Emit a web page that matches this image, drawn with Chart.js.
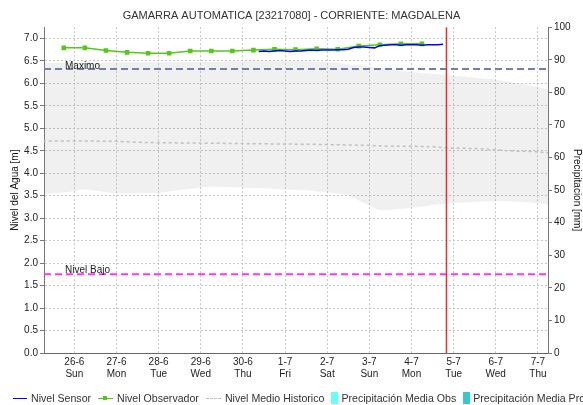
<!DOCTYPE html>
<html>
<head>
<meta charset="utf-8">
<script src="https://cdn.jsdelivr.net/npm/chart.js@4"></script>
<style>
  body { margin: 0; background: #fff; }
  #wrap { position: relative; width: 583px; height: 405px; overflow: hidden; }
  #legend { position: absolute; left: 13px; top: 391px; height: 14px; display: flex; align-items: center;
            white-space: nowrap; font: 10.6px "Liberation Sans", Arial, sans-serif; color: #333; }
  .item { display: flex; align-items: center; margin-right: 7px; flex: none; }
  .sym { display: block; position: relative; margin-right: 4px; flex: none; }
</style>
</head>
<body>
<div id="wrap">
  <canvas id="myChart" width="583" height="405"></canvas>
  <div id="legend"></div>
</div>
<script>
// days counted from 26-6 (tick 0) to 7-7 (tick 11)
const dayLabels = ['26-6', '27-6', '28-6', '29-6', '30-6', '1-7', '2-7', '3-7', '4-7', '5-7', '6-7', '7-7'];
const weekDays = ['Sun', 'Mon', 'Tue', 'Wed', 'Thu', 'Fri', 'Sat', 'Sun', 'Mon', 'Tue', 'Wed', 'Thu'];

const sensorTimes = [4.375, 4.5, 4.625, 4.75, 4.875, 5.0, 5.125, 5.25, 5.375, 5.5, 5.625, 5.75,
  5.875, 6.0, 6.125, 6.25, 6.375, 6.5, 6.625, 6.75, 6.875, 7.0, 7.125, 7.25,
  7.375, 7.5, 7.625, 7.75, 7.875, 8.0, 8.125, 8.25, 8.375, 8.5, 8.625, 8.75];
const sensorLevel = [6.71, 6.72, 6.71, 6.72, 6.73, 6.72, 6.71, 6.72, 6.72, 6.73, 6.74, 6.73,
  6.74, 6.74, 6.74, 6.75, 6.75, 6.76, 6.80, 6.81, 6.81, 6.80, 6.79, 6.84,
  6.85, 6.86, 6.86, 6.85, 6.86, 6.86, 6.86, 6.85, 6.86, 6.86, 6.86, 6.87];

const obsTimes = [-0.25, 0.25, 0.75, 1.25, 1.75, 2.25, 2.75, 3.25, 3.75,
  4.25, 4.75, 5.25, 5.75, 6.25, 6.75, 7.25, 7.75, 8.25];
const obsLevel = [6.79, 6.79, 6.73, 6.69, 6.67, 6.67, 6.72, 6.72, 6.72,
  6.74, 6.76, 6.75, 6.77, 6.76, 6.83, 6.86, 6.88, 6.88];

const histTimes = [-0.75, 0, 1, 1.5, 2, 3, 4, 5, 6, 7, 7.5, 8, 8.5, 8.9, 9.5, 10, 10.5, 11, 11.25];
const histMean = [4.72, 4.72, 4.71, 4.69, 4.68, 4.67, 4.66, 4.65, 4.64, 4.62, 4.60, 4.60, 4.59, 4.56, 4.55, 4.52, 4.49, 4.48, 4.45];

const bandTimes = [-0.75, 0, 0.25, 1, 2, 3.25, 4.2, 4.75, 5.4, 5.9, 6.3, 6.5, 7, 7.25, 7.9, 8.9, 10.1, 11, 11.25];
const bandHigh = [6.45, 6.46, 6.46, 6.47, 6.47, 6.48, 6.50, 6.50, 6.50, 6.48, 6.45, 6.42, 6.37, 6.34, 6.26, 6.18, 6.07, 5.92, 5.87];
const bandLow = [3.53, 3.60, 3.64, 3.55, 3.57, 3.70, 3.67, 3.65, 3.62, 3.58, 3.54, 3.50, 3.28, 3.18, 3.22, 3.33, 3.38, 3.33, 3.30];

const levelMax = 6.32;
const levelLow = 1.75;
const nowDay = 8.83;
const xMin = -0.72, xMax = 11.24;

const pts = (xs, ys) => xs.map((x, i) => ({ x: x, y: ys[i] }));
const flat = (v) => [{ x: xMin, y: v }, { x: xMax, y: v }];
const FONT = '"Liberation Sans", Arial, sans-serif';

// red "now" line plus the text on the reference levels
const extras = {
  id: 'extras',
  afterDatasetsDraw(chart) {
    const { ctx, chartArea, scales } = chart;
    const x = scales.x.getPixelForValue(nowDay);
    ctx.save();
    ctx.strokeStyle = '#e83030';
    ctx.lineWidth = 1.5;
    ctx.beginPath();
    ctx.moveTo(x, chartArea.top);
    ctx.lineTo(x, chartArea.bottom);
    ctx.stroke();
    ctx.fillStyle = '#222';
    ctx.font = '10px ' + FONT;
    ctx.textBaseline = 'alphabetic';
    ctx.fillText('Maximo', chartArea.left + 21, scales.y.getPixelForValue(levelMax));
    ctx.fillText('Nivel Bajo', chartArea.left + 21, scales.y.getPixelForValue(levelLow) - 1);
    ctx.restore();
  }
};

const mychart = document.getElementById('myChart');
const chart = new Chart(mychart, {
  type: 'line',
  data: {
    datasets: [
      { label: 'Nivel Sensor', data: pts(sensorTimes, sensorLevel), borderColor: '#0000ff',
        borderWidth: 1.5, pointRadius: 0, legend: 'line' },
      { label: 'Nivel Observador', data: pts(obsTimes, obsLevel), borderColor: '#55c818',
        backgroundColor: '#55c818', borderWidth: 1.5, pointRadius: 2.2, pointStyle: 'rect', legend: 'marker' },
      { label: 'Nivel Medio Historico', data: pts(histTimes, histMean), borderColor: '#c0c0c0',
        borderWidth: 1.5, borderDash: [3, 3], pointRadius: 0, legend: 'dash' },
      { type: 'bar', label: 'Precipitación Media Obs', data: [], yAxisID: 'y2',
        backgroundColor: '#66ffff', legend: 'box' },
      { type: 'bar', label: 'Precipitación Media Pro', data: [], yAxisID: 'y2',
        backgroundColor: '#33cccc', legend: 'box' },
      { label: 'Maximo', data: flat(levelMax), borderColor: '#7480ac', borderWidth: 2,
        borderDash: [7, 4], pointRadius: 0 },
      { label: 'Nivel Bajo', data: flat(levelLow), borderColor: '#ff33ff', borderWidth: 2,
        borderDash: [7, 4], pointRadius: 0 },
      { label: 'max', data: pts(bandTimes, bandHigh), borderWidth: 0, pointRadius: 0,
        fill: '+1', backgroundColor: 'rgba(128,128,128,0.12)', tension: 0.2 },
      { label: 'min', data: pts(bandTimes, bandLow), borderWidth: 0, pointRadius: 0,
        fill: false, tension: 0.2 },
    ],
  },
  options: {
    responsive: false,
    animation: false,
    devicePixelRatio: 1,
    layout: { padding: 0 },
    plugins: {
      legend: { display: false },
      tooltip: { enabled: false },
      title: {
        display: true,
        text: 'GAMARRA AUTOMATICA [23217080] - CORRIENTE: MAGDALENA',
        color: '#333',
        font: { family: FONT, size: 11, weight: 'normal' },
        padding: { top: 9, bottom: 5 },
      },
    },
    scales: {
      x: {
        type: 'linear',
        min: xMin,
        max: xMax,
        offset: false,
        ticks: {
          stepSize: 1,
          includeBounds: false,
          padding: 3,
          color: '#222',
          maxRotation: 0,
          autoSkip: false,
          font: { family: FONT, size: 10 },
          callback: (v) => [dayLabels[v], weekDays[v]],
        },
        afterBuildTicks: (s) => { s.ticks = s.ticks.filter(t => Number.isInteger(t.value) && t.value >= 0); },
        afterFit: (s) => { s.height = 52; },
        grid: { color: '#c8c8c8', drawTicks: false, offset: false },
        border: { color: '#666', dash: [2, 2] },
      },
      y: {
        position: 'left',
        min: 0,
        max: 7.25,
        ticks: {
          stepSize: 0.5,
          includeBounds: false,
          padding: 2,
          color: '#222',
          font: { family: FONT, size: 10 },
          callback: (v) => v.toFixed(1),
        },
        afterBuildTicks: (s) => { s.ticks = s.ticks.filter(t => t.value <= 7.0001); },
        afterFit: (s) => { s.width = 44; },
        grid: { color: '#c8c8c8', tickLength: 4, tickColor: '#777', tickBorderDash: [] },
        border: { color: '#777', dash: [2, 2] },
        title: {
          display: true,
          text: 'Nivel del Agua [m]',
          color: '#111',
          font: { family: FONT, size: 10 },
          padding: { top: 9, bottom: 0 },
        },
      },
      y2: {
        position: 'right',
        min: 0,
        max: 100,
        ticks: {
          stepSize: 10,
          padding: 2,
          color: '#222',
          font: { family: FONT, size: 10 },
        },
        afterFit: (s) => { s.width = 35; },
        grid: { drawOnChartArea: false, tickLength: 4, tickColor: '#777' },
        border: { color: '#777' },
        title: {
          display: true,
          text: 'Precipitacion [mm]',
          color: '#111',
          font: { family: FONT, size: 10 },
          padding: { top: 0, bottom: 0 },
        },
      },
    },
  },
  plugins: [extras],
});

// legend row under the axis, built from the datasets
const legendBox = document.getElementById('legend');
chart.data.datasets.filter(d => d.legend).forEach(d => {
  const item = document.createElement('span');
  item.className = 'item';
  const sym = document.createElement('span');
  sym.className = 'sym';
  const col = d.borderColor || d.backgroundColor;
  if (d.legend === 'line') {
    sym.style.cssText = 'width:14px;height:0;border-top:1.5px solid ' + col;
  } else if (d.legend === 'marker') {
    sym.style.cssText = 'width:15px;height:0;border-top:1.5px solid ' + col;
    const dot = document.createElement('span');
    dot.style.cssText = 'position:absolute;left:5px;top:-3px;width:4px;height:4px;background:' + col;
    sym.appendChild(dot);
  } else if (d.legend === 'dash') {
    sym.style.cssText = 'width:15px;height:0;border-top:1.5px dashed ' + col;
  } else {
    sym.style.cssText = 'width:7px;height:12px;margin-right:3px;background:' + d.backgroundColor;
  }
  item.appendChild(sym);
  item.appendChild(document.createTextNode(d.label));
  legendBox.appendChild(item);
});
</script>
</body>
</html>
